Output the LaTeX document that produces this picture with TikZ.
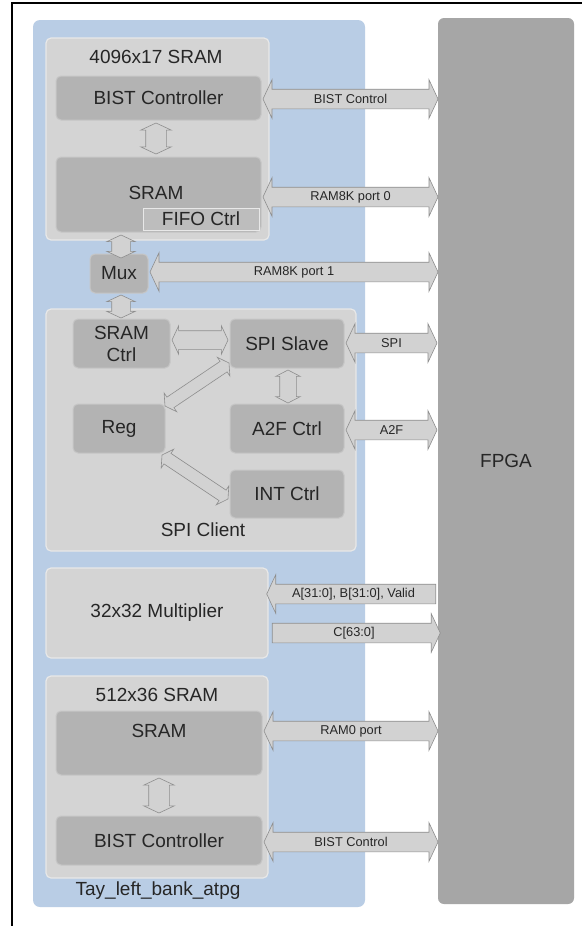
\documentclass[tikz,border=0pt]{standalone}
\usepackage{fontspec}
\setmainfont{Liberation Sans}
\usetikzlibrary{shapes.arrows,calc}
\definecolor{bluebg}{HTML}{B9CDE5}
\definecolor{fpgac}{HTML}{A6A6A6}
\definecolor{outerc}{HTML}{D4D4D4}
\definecolor{outerln}{HTML}{E8E8E8}
\definecolor{innerc}{HTML}{B3B3B3}
\definecolor{innerln}{HTML}{C6C6C6}
\definecolor{fifoc}{HTML}{BDBDBD}
\definecolor{arrfill}{HTML}{D2D2D2}
\definecolor{arrline}{HTML}{8E8E8E}
\definecolor{txt}{HTML}{262626}
% \blk[style]{name}{x1}{y1}{x2}{y2}{text}
\newcommand\blk[7][]{\node[#1, anchor=north west, minimum width={(#5-#3)*1pt}, minimum height={(#6-#4)*1pt}] (#2) at (#3,#4) {#7};}
% \conn[style]{name}{from}{to}
\newcommand\conn[4][]{\path let \p1=(#3), \p2=(#4), \n1={veclen(\x2-\x1,\y2-\y1)}, \n2={atan2(\y2-\y1,\x2-\x1)} in node[#1, minimum height=\n1, rotate=\n2] (#2) at ($(\p1)!0.5!(\p2)$) {};}
\begin{document}
\begin{tikzpicture}[x=1pt,y=-1pt,
  every node/.style={inner sep=0pt, outer sep=0pt, text=txt},
  mainfont/.style={font=\fontsize{19}{23}\selectfont},
  panel/.style={fill=bluebg, rounded corners=7pt},
  fpgabox/.style={fill=fpgac, rounded corners=6pt, mainfont},
  outerbox/.style={fill=outerc, draw=outerln, line width=1.2pt, rounded corners=5pt, mainfont},
  innerbox/.style={fill=innerc, draw=innerln, line width=1pt, rounded corners=5pt, mainfont, align=center},
  fifobox/.style={fill=fifoc, draw=outerln, line width=1pt, mainfont},
  arrbase/.style={draw=arrline, fill=arrfill, line width=0.6pt, inner xsep=0pt},
  bigdbl/.style={arrbase, double arrow, inner ysep=9.5pt, double arrow head extend=9.5pt, double arrow tip angle=130},
  bigsgl/.style={arrbase, single arrow, inner ysep=9.5pt, single arrow head extend=9.5pt, single arrow tip angle=130},
  vdbl/.style={arrbase, double arrow, inner ysep=10pt, double arrow head extend=5pt, double arrow tip angle=130},
  mdbl/.style={arrbase, double arrow, inner ysep=9pt, double arrow head extend=5pt, double arrow tip angle=130},
  sdbl/.style={arrbase, double arrow, inner ysep=8pt, double arrow head extend=4pt, double arrow tip angle=125},
  ddbl/.style={arrbase, double arrow, inner ysep=6pt, double arrow head extend=5pt, double arrow tip angle=120},
  albl/.style={font=\fontsize{12.8}{15}\selectfont},
  lbl/.style={mainfont}]
\useasboundingbox (0,0) rectangle (582,926);
\fill[white] (0,0) rectangle (582,926);
\draw[line width=2pt, black] (12,926) -- (12,3) -- (582,3);

% panels
\blk[panel]{bank}{33}{20}{365}{907}{}
\blk[fpgabox]{fpga}{438}{18}{574}{904}{FPGA}

% 4096x17 SRAM
\blk[outerbox]{sramA}{46}{38}{269}{240}{}
\node[lbl] (sramAlbl) at (156,57) {4096x17 SRAM};
\blk[innerbox]{bistA}{56}{76}{261}{120}{BIST Controller}
\blk[innerbox]{sramAi}{56}{157}{261}{232}{}
\node[lbl] (sramAtxt) at (156,193) {SRAM};
\blk[fifobox]{fifo}{143}{208}{259}{230}{FIFO Ctrl}

% Mux
\blk[innerbox]{mux}{90}{254}{148}{293}{Mux}

% SPI client
\blk[outerbox]{spic}{46}{309}{356}{551}{}
\node[lbl] (spiclbl) at (203,530) {SPI Client};
\blk[innerbox]{sramctrl}{73}{319}{170}{368}{SRAM\\[-1pt]Ctrl}
\blk[innerbox]{spislave}{230}{319}{344}{368}{SPI Slave}
\blk[innerbox]{reg}{73}{404}{165}{453}{Reg}
\blk[innerbox]{a2f}{230}{404}{344}{453}{A2F Ctrl}
\blk[innerbox]{intc}{230}{470}{344}{518}{INT Ctrl}

% Multiplier
\blk[outerbox]{mult}{46}{568}{268}{658}{32x32 Multiplier}

% 512x36 SRAM
\blk[outerbox]{sramB}{46}{676}{268}{878}{}
\node[lbl] (sramBlbl) at (157,695) {512x36 SRAM};
\blk[innerbox]{sramBi}{56}{711}{262}{775}{}
\node[lbl] (sramBtxt) at (159,731) {SRAM};
\blk[innerbox]{bistB}{56}{816}{262}{865}{BIST Controller}

\node[lbl] (banklbl) at (158,891) {Tay\_left\_bank\_atpg};

% connector end points
\coordinate (p1a) at (263,99);  \coordinate (p1b) at (fpga.west |- p1a);
\coordinate (p2a) at (263,197); \coordinate (p2b) at (fpga.west |- p2a);
\coordinate (p3a) at (150,272); \coordinate (p3b) at (fpga.west |- p3a);
\coordinate (p4a) at (346,343); \coordinate (p4b) at (437,343);
\coordinate (p5a) at (346,430); \coordinate (p5b) at (437,430);
\coordinate (p6a) at (fpga.west |- 0,594); \coordinate (p6b) at (269,594);
\coordinate (p7a) at (270,633); \coordinate (p7b) at (fpga.west |- p7a);
\coordinate (p8a) at (264,731); \coordinate (p8b) at (fpga.west |- p8a);
\coordinate (p9a) at (264,842); \coordinate (p9b) at (fpga.west |- p9a);

\coordinate (v1a) at (156,123); \coordinate (v1b) at (156,154);
\coordinate (v2a) at (121,235); \coordinate (v2b) at (121,258);
\coordinate (v3a) at (121,295); \coordinate (v3b) at (121,318);
\coordinate (h1a) at (172,340); \coordinate (h1b) at (228,340);
\coordinate (v4a) at (288,370); \coordinate (v4b) at (288,403);
\coordinate (d1a) at (165,406); \coordinate (d1b) at (229,363);
\coordinate (d2a) at (162,455); \coordinate (d2b) at (228,499);
\coordinate (v5a) at (159,778); \coordinate (v5b) at (159,813);

% external arrows
\conn[bigdbl]{arBistA}{p1a}{p1b} \node[albl] at (arBistA) {BIST Control};
\conn[bigdbl]{arP0}{p2a}{p2b} \node[albl] at (arP0) {RAM8K port 0};
\conn[bigdbl]{arP1}{p3a}{p3b} \node[albl] at (arP1) {RAM8K port 1};
\conn[bigdbl]{arSpi}{p4a}{p4b} \node[albl] at (arSpi) {SPI};
\conn[bigdbl]{arA2f}{p5a}{p5b} \node[albl] at (arA2f) {A2F};
\conn[bigsgl]{arIn}{p6a}{p6b} \node[albl] at (arIn) {A[31:0], B[31:0], Valid};
\conn[bigsgl]{arOut}{p7a}{p7b} \node[albl] at (arOut) {C[63:0]};
\conn[bigdbl]{arR0}{p8a}{p8b} \node[albl] at (arR0) {RAM0 port};
\conn[bigdbl]{arBistB}{p9a}{p9b} \node[albl] at (arBistB) {BIST Control};

% internal arrows
\conn[vdbl]{iv1}{v1a}{v1b}
\conn[mdbl]{iv2}{v2a}{v2b}
\conn[mdbl]{iv3}{v3a}{v3b}
\conn[mdbl]{ih1}{h1a}{h1b}
\conn[sdbl]{iv4}{v4a}{v4b}
\conn[ddbl]{id1}{d1a}{d1b}
\conn[ddbl]{id2}{d2a}{d2b}
\conn[vdbl]{iv5}{v5a}{v5b}
\end{tikzpicture}
\end{document}
